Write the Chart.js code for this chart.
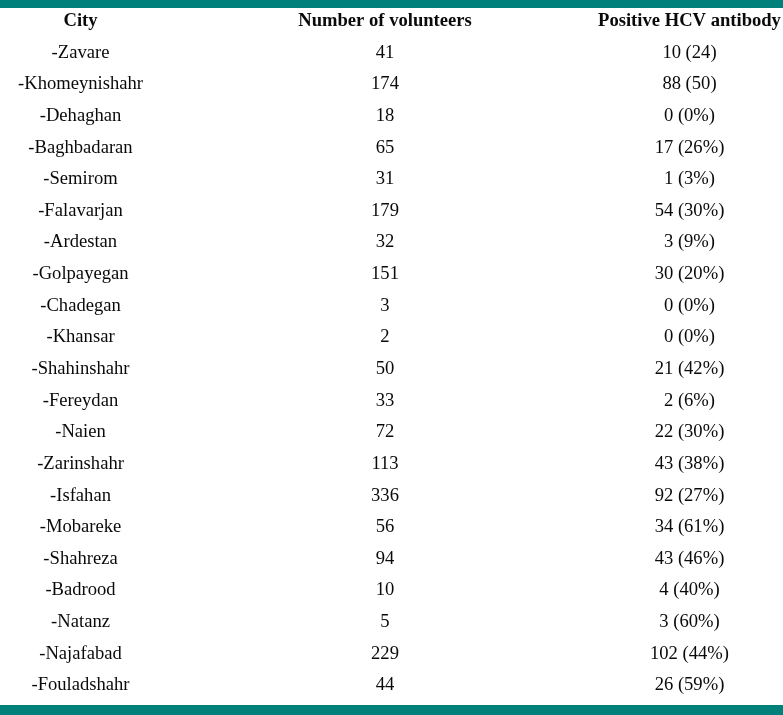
<!DOCTYPE html>
<html>
<head>
<meta charset="utf-8">
<script src="https://cdn.jsdelivr.net/npm/chart.js@4.4.1/dist/chart.umd.min.js"></script>
<style>
  html, body { margin: 0; padding: 0; background: #ffffff; }
  #wrap { position: relative; width: 783px; height: 715px; overflow: hidden; }
  #top { position: absolute; left: 0; top: 0; width: 783px; height: 8px; background: #00807b; }
  #bottom { position: absolute; left: 0; top: 705px; width: 783px; height: 10px; background: #00807b; }
  canvas { position: absolute; left: 0; top: 0; }
</style>
</head>
<body>
<div id="wrap">
  <canvas id="c" width="783" height="715"></canvas>
  <div id="top"></div>
  <div id="bottom"></div>
</div>
<script>
// ---- data ----
const headers = ["City", "Number of volunteers", "Positive HCV antibody"];
const cities = ["-Zavare", "-Khomeynishahr", "-Dehaghan", "-Baghbadaran", "-Semirom", "-Falavarjan",
  "-Ardestan", "-Golpayegan", "-Chadegan", "-Khansar", "-Shahinshahr", "-Fereydan", "-Naien",
  "-Zarinshahr", "-Isfahan", "-Mobareke", "-Shahreza", "-Badrood", "-Natanz", "-Najafabad", "-Fouladshahr"];
const volunteers = [41, 174, 18, 65, 31, 179, 32, 151, 3, 2, 50, 33, 72, 113, 336, 56, 94, 10, 5, 229, 44];
const positiveHCV = ["10 (24)", "88 (50)", "0 (0%)", "17 (26%)", "1 (3%)", "54 (30%)", "3 (9%)", "30 (20%)",
  "0 (0%)", "0 (0%)", "21 (42%)", "2 (6%)", "22 (30%)", "43 (38%)", "92 (27%)", "34 (61%)", "43 (46%)",
  "4 (40%)", "3 (60%)", "102 (44%)", "26 (59%)"];

// ---- build cells: column index on x, row index on y (row 0 = header) ----
const columns = [cities, volunteers.map(String), positiveHCV];
const datasets = [{
  label: "header",
  data: headers.map((h, c) => ({ x: c, y: 0, text: h })),
  bold: true
}];
columns.forEach((col, c) => {
  datasets.push({
    label: headers[c],
    data: col.map((t, r) => ({ x: c, y: r + 1, text: t })),
    bold: false
  });
});
datasets.forEach(d => { d.pointRadius = 0; d.showLine = false; });

const cellText = {
  id: "cellText",
  afterDatasetsDraw(chart) {
    const ctx = chart.ctx;
    ctx.save();
    ctx.textAlign = "center";
    ctx.textBaseline = "middle";
    ctx.fillStyle = "#0a0a0a";
    chart.data.datasets.forEach((ds, i) => {
      const meta = chart.getDatasetMeta(i);
      ctx.font = (ds.bold ? "bold " : "") + "18.6px 'Liberation Serif', 'Times New Roman', serif";
      meta.data.forEach((el, j) => {
        ctx.fillText(ds.data[j].text, el.x, el.y);
      });
    });
    ctx.restore();
  }
};

new Chart(document.getElementById("c"), {
  type: "scatter",
  data: { datasets },
  options: {
    responsive: false,
    animation: false,
    layout: { padding: 0 },
    plugins: { legend: { display: false }, tooltip: { enabled: false } },
    scales: {
      x: { type: "linear", display: false, min: -0.2644, max: 2.3071 },
      y: { type: "linear", display: false, reverse: true, min: -0.670, max: 21.935 }
    }
  },
  plugins: [cellText]
});
</script>
</body>
</html>
